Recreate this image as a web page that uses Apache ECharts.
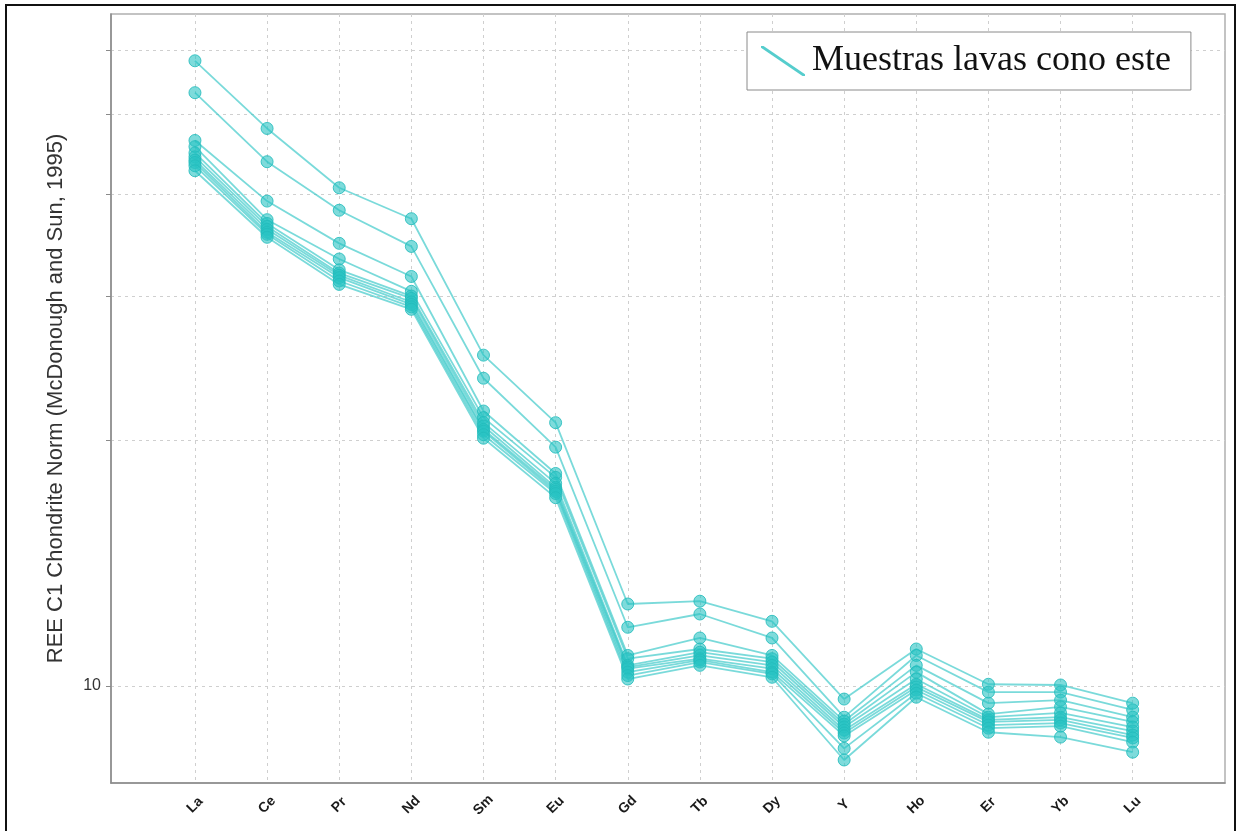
<!DOCTYPE html>
<html lang="es">

<head>
    <meta charset="UTF-8">
    <meta name="viewport" content="width=device-width, initial-scale=1.0">
    <title>REE normalizado a condrito</title>
    <script src="https://cdn.jsdelivr.net/npm/echarts@6/dist/echarts.min.js"></script>
    <style>
        body {
            margin: 0;
            background: #fff;
        }

        #root {
            width: 1238px;
            height: 831px;
        }
    </style>
</head>

<body>

    <div id="root"></div>
    <script>

        // elementos (eje x)
        var categories = ['La', 'Ce', 'Pr', 'Nd', 'Sm', 'Eu', 'Gd', 'Tb', 'Dy', 'Y', 'Ho', 'Er', 'Yb', 'Lu'];

        // valores normalizados, una lista por muestra
        var s1 = [58.2, 48.1, 40.7, 37.3, 25.4, 21.0, 12.6, 12.7, 12.0, 9.64, 11.1, 10.05, 10.03, 9.53];
        var s2 = [53.2, 43.8, 38.2, 34.5, 23.8, 19.6, 11.8, 12.25, 11.45, 9.16, 10.9, 9.83, 9.83, 9.35];
        var s3 = [46.5, 39.2, 34.8, 31.7, 21.7, 18.2, 10.9, 11.45, 10.9, 9.06, 10.6, 9.53, 9.61, 9.16];
        var s4 = [45.7, 37.2, 33.3, 30.4, 21.3, 18.0, 10.8, 11.1, 10.8, 8.98, 10.4, 9.24, 9.43, 9.04];
        var s5 = [44.9, 36.8, 32.3, 30.0, 21.0, 17.7, 10.6, 11.0, 10.7, 8.91, 10.2, 9.16, 9.27, 8.91];
        var s6 = [44.4, 36.5, 32.0, 29.8, 20.8, 17.5, 10.55, 10.9, 10.6, 8.83, 10.05, 9.09, 9.16, 8.81];
        var s7 = [44.0, 36.2, 31.8, 29.5, 20.6, 17.4, 10.5, 10.8, 10.5, 8.76, 9.97, 9.04, 9.09, 8.71];
        var s8 = [43.7, 35.9, 31.6, 29.3, 20.5, 17.3, 10.4, 10.76, 10.4, 8.69, 9.89, 8.96, 9.01, 8.64];
        var s9 = [43.3, 35.7, 31.3, 29.1, 20.3, 17.2, 10.3, 10.7, 10.35, 8.39, 9.80, 8.88, 8.93, 8.54];
        var s10 = [42.7, 35.4, 31.0, 28.9, 20.1, 17.0, 10.2, 10.6, 10.25, 8.12, 9.69, 8.78, 8.66, 8.30];
        var samples = [s1, s2, s3, s4, s5, s6, s7, s8, s9, s10];

        var seriesName = 'Muestras lavas cono este';
        var yTicks = [10, 20, 30, 40, 50, 60];
        var yLabels = [10];

        var catIndex = categories.map(function (c, i) { return i; });

        var mychart = echarts.init(document.getElementById('root'), null, { renderer: 'canvas' });

        var gridDash = { color: '#cfcfcf', width: 1, type: [3, 4] };

        mychart.setOption({
            animation: false,
            backgroundColor: '#fff',
            // marco negro de la imagen original
            graphic: [{
                type: 'rect',
                shape: { x: 6, y: 5, width: 1229, height: 840 },
                style: { fill: 'none', stroke: '#111', lineWidth: 2 },
                silent: true
            }],
            grid: {
                left: 111,
                top: 14,
                right: 13,
                bottom: 48,
                show: true,
                borderColor: '#b0b0b0',
                borderWidth: 1.5,
                backgroundColor: 'transparent'
            },
            legend: {
                left: 747,
                top: 32,
                data: [seriesName],
                orient: 'horizontal',
                backgroundColor: '#fff',
                borderColor: '#8a8a8a',
                borderWidth: 1,
                borderRadius: 0,
                padding: [11, 20, 11, 14],
                itemWidth: 44,
                itemHeight: 30,
                itemGap: 9,
                icon: 'path://M0,0 L2.5,0 L44,28.3 L44,30 L41.5,30 L0,1.7 Z',
                itemStyle: { color: '#55cdcd', borderWidth: 0 },
                textStyle: {
                    fontFamily: 'Liberation Serif',
                    fontSize: 36,
                    lineHeight: 36,
                    color: '#111',
                    padding: [0, 0, 0, 2]
                }
            },
            xAxis: {
                type: 'value',
                min: -1.164,
                max: 14.28,
                axisLine: { show: true, onZero: false, lineStyle: { color: '#8a8a8a', width: 1.5 } },
                axisTick: { show: false, customValues: catIndex },
                splitLine: { show: true, lineStyle: gridDash },
                axisLabel: {
                    customValues: catIndex,
                    rotate: 45,
                    margin: 22,
                    align: 'center',
                    verticalAlign: 'middle',
                    fontFamily: 'Liberation Sans',
                    fontWeight: 'bold',
                    fontSize: 14,
                    color: '#1a1a1a',
                    formatter: function (v) { return categories[Math.round(v)]; }
                }
            },
            yAxis: {
                type: 'log',
                logBase: 10,
                min: 7.61,
                max: 66.4,
                name: 'REE C1 Chondrite Norm (McDonough and Sun, 1995)',
                nameLocation: 'middle',
                nameRotate: 90,
                nameGap: 44,
                nameTextStyle: {
                    fontFamily: 'Liberation Sans',
                    fontSize: 22,
                    color: '#333'
                },
                axisLine: { show: true, onZero: false, lineStyle: { color: '#8a8a8a', width: 1.5 } },
                axisTick: {
                    show: true,
                    customValues: yTicks,
                    length: 5,
                    lineStyle: { color: '#8a8a8a' }
                },
                splitLine: { show: true, lineStyle: gridDash },
                axisLabel: {
                    customValues: yLabels,
                    margin: 10,
                    fontFamily: 'Liberation Sans',
                    fontSize: 16,
                    color: '#333'
                }
            },
            series: samples.map(function (s) {
                return {
                    type: 'line',
                    name: seriesName,
                    data: s.map(function (v, i) { return [i, v]; }),
                    symbol: 'circle',
                    symbolSize: 12,
                    lineStyle: { color: 'rgba(65, 203, 203, 0.7)', width: 1.8 },
                    itemStyle: {
                        color: 'rgba(40, 195, 195, 0.6)',
                        borderColor: 'rgba(35, 188, 188, 0.85)',
                        borderWidth: 1
                    },
                    emphasis: { disabled: true }
                };
            })
        });

    </script>

</body>

</html>
